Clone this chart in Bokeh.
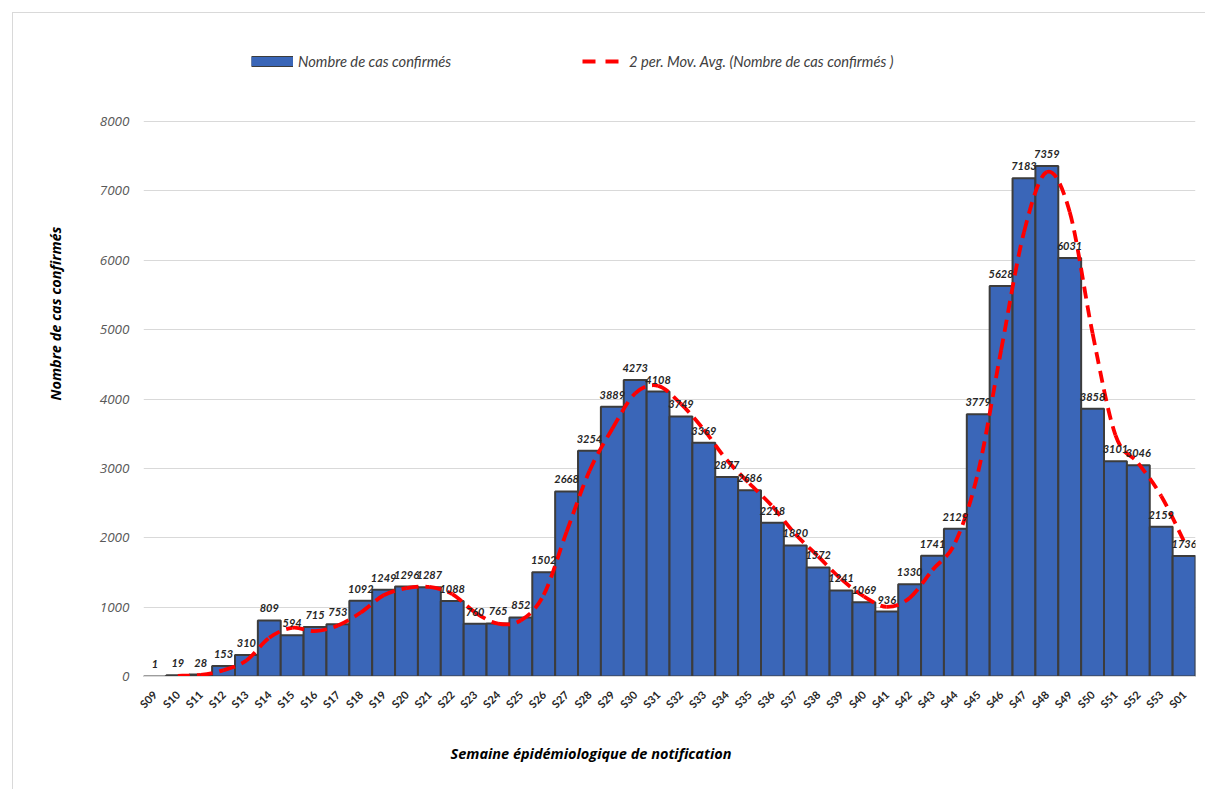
import math
from bokeh.plotting import figure
from bokeh.models import Range1d, FixedTicker, Legend, LegendItem, Title, ColumnDataSource
from bokeh.core.properties import value
from bokeh.embed import file_html
from bokeh.resources import INLINE

weeks = ["S09", "S10", "S11", "S12", "S13", "S14", "S15", "S16", "S17", "S18",
         "S19", "S20", "S21", "S22", "S23", "S24", "S25", "S26", "S27", "S28",
         "S29", "S30", "S31", "S32", "S33", "S34", "S35", "S36", "S37", "S38",
         "S39", "S40", "S41", "S42", "S43", "S44", "S45", "S46", "S47", "S48",
         "S49", "S50", "S51", "S52", "S53", "S01"]
cases = [1, 19, 28, 153, 310, 809, 594, 715, 753, 1092,
         1249, 1296, 1287, 1088, 760, 765, 852, 1502, 2668, 3254,
         3889, 4273, 4108, 3749, 3369, 2877, 2686, 2218, 1890, 1572,
         1241, 1069, 936, 1330, 1741, 2129, 3779, 5628, 7183, 7359,
         6031, 3858, 3101, 3046, 2159, 1736]
# 2-period moving average (starts at S10)
mov_avg = [10, 23.5, 90.5, 231.5, 559.5, 701.5, 654.5, 734, 922.5,
           1170.5, 1272.5, 1291.5, 1187.5, 924, 762.5, 808.5, 1177, 2085, 2961,
           3571.5, 4081, 4190.5, 3928.5, 3559, 3123, 2781.5, 2452, 2054, 1731,
           1406.5, 1155, 1002.5, 1133, 1535.5, 1935, 2954, 4703.5, 6405.5, 7271,
           6695, 4944.5, 3479.5, 3073.5, 2602.5, 1947.5]
y_ticks = [0, 1000, 2000, 3000, 4000, 5000, 6000, 7000, 8000]

bar_label = "Nombre de cas confirmés"
ma_label = "2 per. Mov. Avg. (Nombre de cas confirmés )"
x_title = "Semaine épidémiologique de notification"
y_title = "Nombre de cas confirmés"

n = len(weeks)
idx = list(range(n))

# frame: top of frame extends above the 8000 line to hold the legend
frame_h = 636
axis_h = 555  # pixels from 0 to 8000
y_top = y_ticks[-1] * frame_h / axis_h

p = figure(width=1193, height=777, output_backend="svg", toolbar_location=None,
           x_range=Range1d(-0.5, n - 0.5), y_range=Range1d(0, y_top),
           min_border_left=130, min_border_right=11, min_border_top=27,
           min_border_bottom=114)
p.styles = {"margin-left": "12px", "margin-top": "12px",
            "border-left": "1px solid #d9d9d9", "border-top": "1px solid #d9d9d9"}
p.outline_line_color = None
p.background_fill_color = "white"
p.border_fill_color = "white"

src = ColumnDataSource(dict(x=idx, top=cases, lab=[str(c) for c in cases]))
bars = p.vbar(x="x", top="top", width=1.0, source=src,
              fill_color="#3A66B8", line_color="#3c3c3c", line_width=2)

# smoothed moving-average curve (Catmull-Rom -> Bezier segments)
mx = idx[1:]
my = mov_avg
m = len(mx)
def pt(k):
    k = max(0, min(m - 1, k))
    return mx[k], my[k]
x0s, y0s, x1s, y1s, cx0s, cy0s, cx1s, cy1s = [], [], [], [], [], [], [], []
for i in range(m - 1):
    pa = pt(i - 1); pb = pt(i); pc = pt(i + 1); pd = pt(i + 2)
    x0s.append(pb[0]); y0s.append(pb[1])
    x1s.append(pc[0]); y1s.append(pc[1])
    cx0s.append(pb[0] + (pc[0] - pa[0]) / 6.0); cy0s.append(pb[1] + (pc[1] - pa[1]) / 6.0)
    cx1s.append(pc[0] - (pd[0] - pb[0]) / 6.0); cy1s.append(pc[1] - (pd[1] - pb[1]) / 6.0)
p.bezier(x0=x0s, y0=y0s, x1=x1s, y1=y1s, cx0=cx0s, cy0=cy0s, cx1=cx1s, cy1=cy1s,
         line_color="#FF0000", line_width=3.8, line_dash="12 7")

# legend proxies (no visible data)
nan = float("nan")
leg_bar_edge = p.line(x=[nan], y=[nan], line_color="#3c3c3c", line_width=11)
leg_bar_fill = p.line(x=[nan], y=[nan], line_color="#3A66B8", line_width=9)
leg_ma = p.line(x=[nan], y=[nan], line_color="#FF0000", line_width=3.8, line_dash="13 10")

p.text(x="x", y="top", text="lab", source=src, text_align="center",
       text_baseline="bottom", y_offset=-8, text_font=value("Lato"),
       text_font_style="bold italic", text_font_size="11px", text_color="#262626")

# axes
p.xgrid.visible = False
p.ygrid.grid_line_color = "#d9d9d9"
p.ygrid.grid_line_width = 1
p.yaxis.ticker = FixedTicker(ticks=y_ticks)
p.yaxis.axis_line_color = None
p.yaxis.major_tick_line_color = None
p.yaxis.minor_tick_line_color = None
p.yaxis.major_label_text_font = "Open Sans"
p.yaxis.major_label_text_font_style = "italic"
p.yaxis.major_label_text_font_size = "13.5px"
p.yaxis.major_label_text_color = "#595959"
p.yaxis.major_label_standoff = 8

p.xaxis.ticker = FixedTicker(ticks=idx)
p.xaxis.major_label_overrides = {i: w for i, w in enumerate(weeks)}
p.xaxis.major_label_orientation = math.pi / 4
p.xaxis.axis_line_color = "#d9d9d9"
p.xaxis.major_tick_line_color = None
p.xaxis.minor_tick_line_color = None
p.xaxis.major_label_text_font = "Lato"
p.xaxis.major_label_text_font_style = "bold"
p.xaxis.major_label_text_font_size = "11px"
p.xaxis.major_label_text_color = "#262626"
p.xaxis.major_label_standoff = 10

# axis titles
p.add_layout(Title(text=y_title, align="left", offset=276, standoff=60,
                   vertical_align="top",
                   text_font="Open Sans", text_font_style="bold italic",
                   text_font_size="14.5px", text_color="#000000"), "left")
p.add_layout(Title(text=x_title, align="left", offset=307, standoff=48,
                   text_font="Open Sans", text_font_style="bold italic",
                   text_font_size="14.5px", text_color="#000000"), "below")

# legend (inside the top band of the frame)
leg = Legend(items=[LegendItem(label=bar_label, renderers=[leg_bar_edge, leg_bar_fill]),
                    LegendItem(label=ma_label, renderers=[leg_ma])],
             location=(108, 606), orientation="horizontal",
             glyph_width=42, glyph_height=12, label_standoff=5, label_width=284,
             spacing=0, padding=0, margin=0, border_line_color=None,
             background_fill_alpha=0,
             label_text_font="Lato", label_text_font_style="italic",
             label_text_font_size="14.7px", label_text_color="#404040", label_height=14)
p.add_layout(leg)

open("out.html", "w").write(file_html(p, INLINE))
